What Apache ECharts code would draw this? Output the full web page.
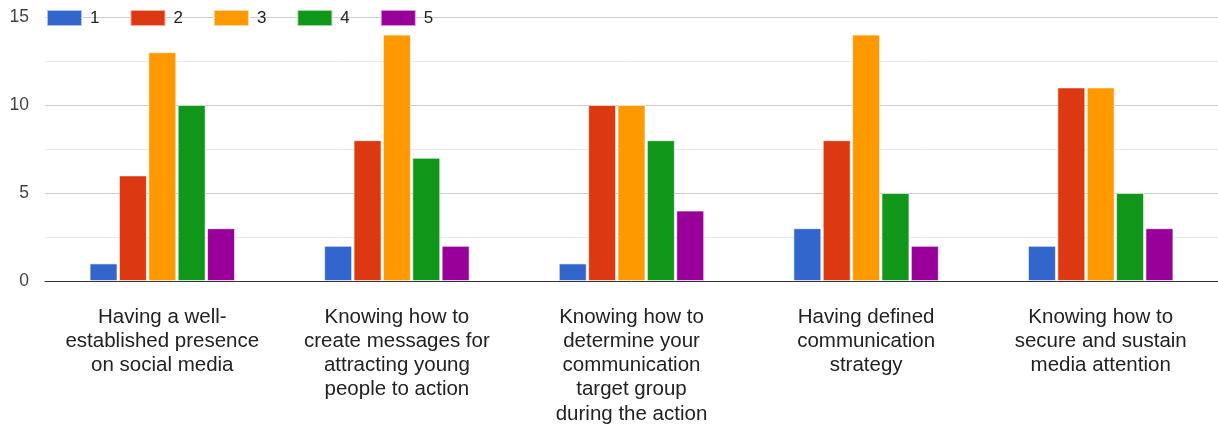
<!DOCTYPE html>
<html>
<head>
<meta charset="utf-8">
<script src="https://cdn.jsdelivr.net/npm/echarts@6/dist/echarts.min.js"></script>
<style>
  html, body { margin: 0; padding: 0; background: #fff; }
  #chart { width: 1218px; height: 427px; }
</style>
</head>
<body>
<div id="chart"></div>
<script>
// Survey items (x-axis) and their wrapped tick labels
const categories = [
  'Having a well-established presence on social media',
  'Knowing how to create messages for attracting young people to action',
  'Knowing how to determine your communication target group during the action',
  'Having defined communication strategy',
  'Knowing how to secure and sustain media attention'
];
const tickLabels = [
  'Having a well-\nestablished presence\non social media',
  'Knowing how to\ncreate messages for\nattracting young\npeople to action',
  'Knowing how to\ndetermine your\ncommunication\ntarget group\nduring the action',
  'Having defined\ncommunication\nstrategy',
  'Knowing how to\nsecure and sustain\nmedia attention'
];

// Rating levels 1..5 and count of responses per item
const ratingNames = ['1', '2', '3', '4', '5'];
const rating1 = [1, 2, 1, 3, 2];
const rating2 = [6, 8, 10, 8, 11];
const rating3 = [13, 14, 10, 14, 11];
const rating4 = [10, 7, 8, 5, 5];
const rating5 = [3, 2, 4, 2, 3];

const colors = ['#3366cc', '#dc3912', '#ff9900', '#109618', '#990099'];
const seriesData = [rating1, rating2, rating3, rating4, rating5];

const chart = echarts.init(document.getElementById('chart'), null, { renderer: 'canvas' });

chart.setOption({
  animation: false,
  color: colors,
  textStyle: { fontFamily: 'Liberation Sans, Arial, sans-serif' },
  legend: {
    left: 46,
    top: 9,
    padding: 0,
    icon: 'rect',
    itemWidth: 35,
    itemHeight: 16,
    itemGap: 30,
    textStyle: { fontSize: 17, color: '#222', padding: [0, 0, 0, 3] },
    data: ratingNames
  },
  grid: { left: 45, right: 0, top: 17, bottom: 146 },
  xAxis: {
    type: 'category',
    data: categories,
    axisTick: { show: false },
    axisLine: { lineStyle: { color: '#333', width: 1 } },
    axisLabel: {
      interval: 0,
      margin: 24,
      fontSize: 20.5,
      lineHeight: 24.2,
      color: '#222',
      formatter: (v, i) => tickLabels[i]
    }
  },
  yAxis: {
    type: 'value',
    min: 0,
    max: 15,
    interval: 2.5,
    axisLine: { show: false },
    axisTick: { show: false },
    axisLabel: {
      fontSize: 17.5,
      color: '#444',
      margin: 16,
      formatter: v => (v % 5 === 0 ? String(v) : '')
    },
    splitLine: { lineStyle: { color: ['#cccccc', '#ebebeb'], width: 1 } }
  },
  series: seriesData.map((d, i) => ({
    name: ratingNames[i],
    type: 'bar',
    data: d,
    barGap: '5%',
    barCategoryGap: '38%',
    itemStyle: { borderColor: 'rgba(255,255,255,0.6)', borderWidth: 1 }
  }))
});
</script>
</body>
</html>
